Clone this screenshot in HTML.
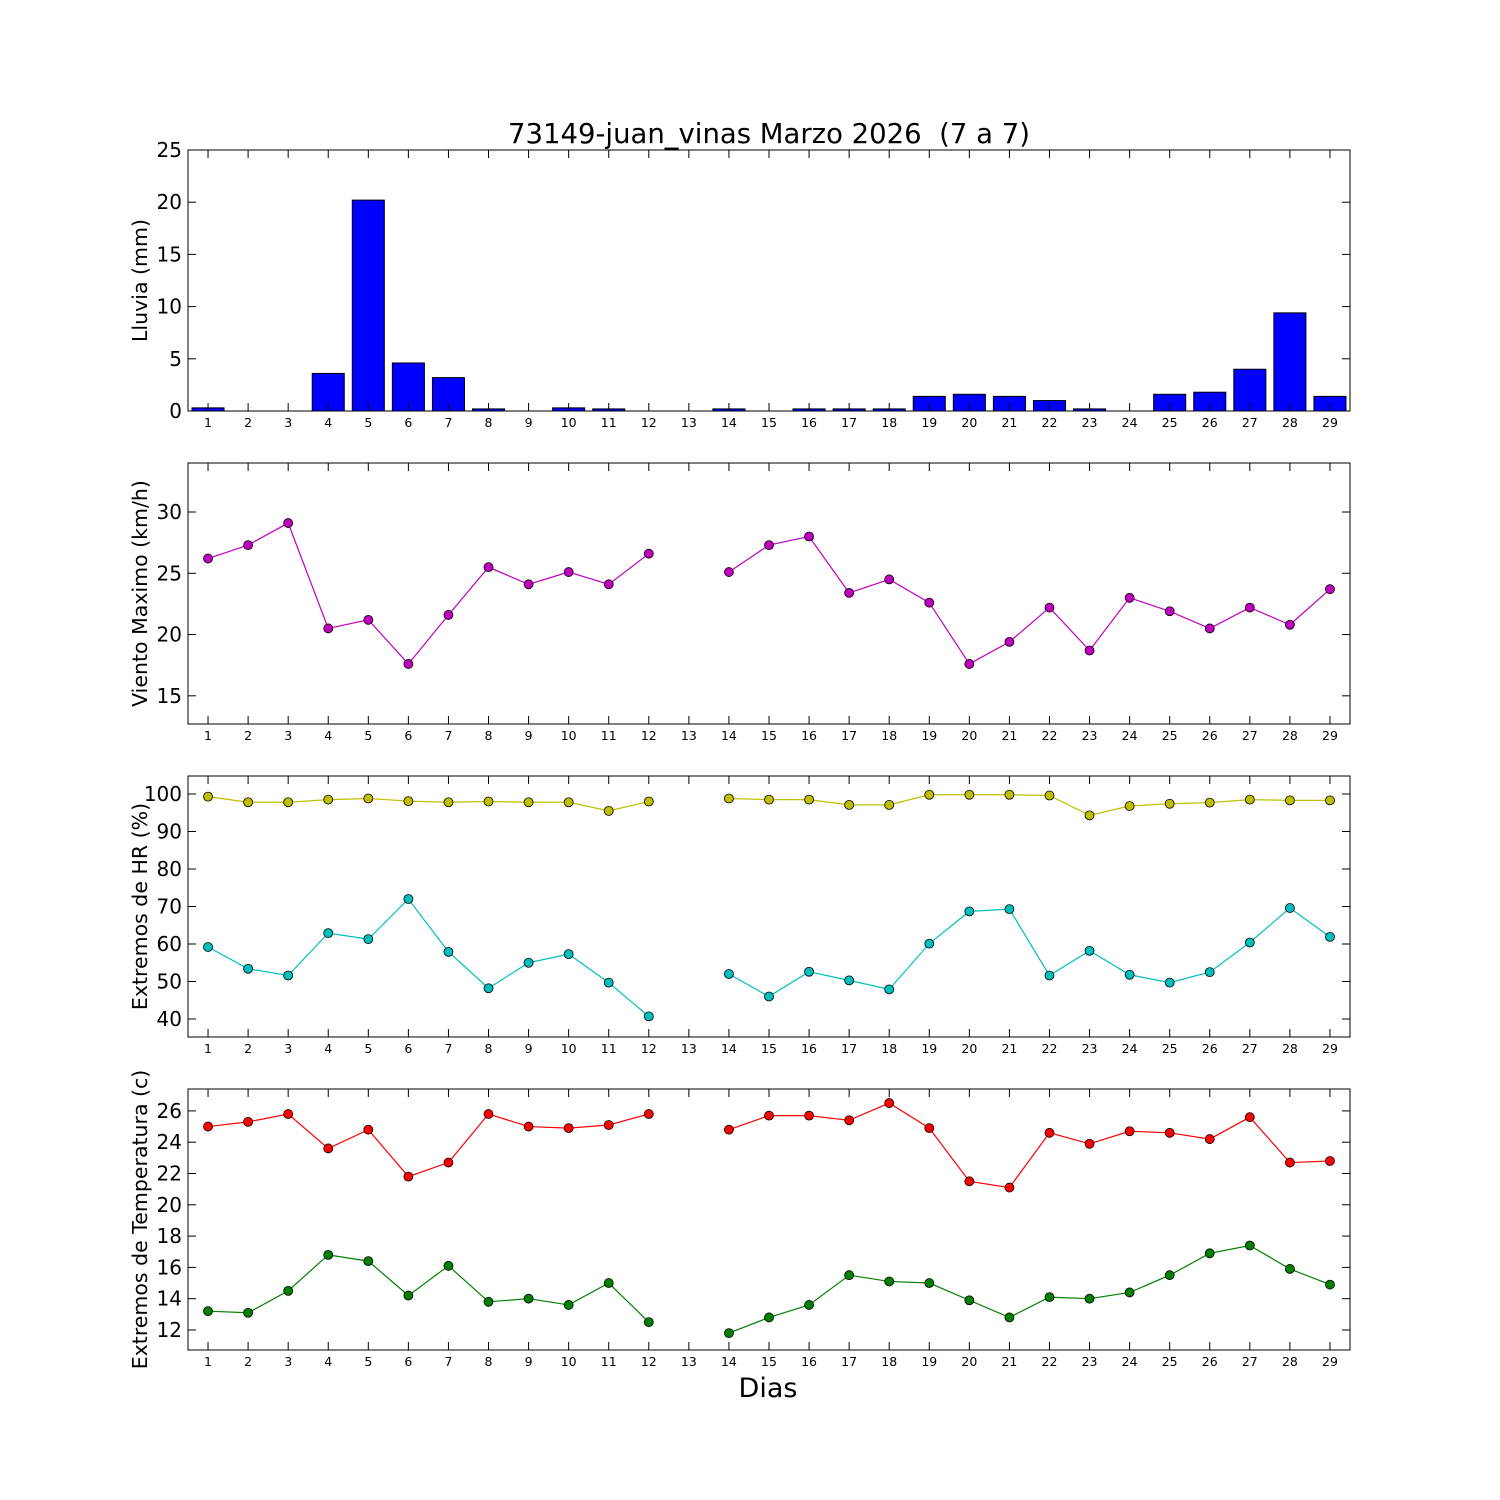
<!DOCTYPE html>
<html><head><meta charset="utf-8"><style>
body{margin:0;background:#fff}
svg{display:block;font-family:"DejaVu Sans","Liberation Sans",sans-serif}
</style></head><body>
<svg id="chart" width="1500" height="1500" viewBox="0 0 1500 1500">
<rect width="1500" height="1500" fill="#fff"/>
<text x="769" y="143" font-size="27.5" text-anchor="middle" xml:space="preserve">73149-juan_vinas Marzo 2026  (7 a 7)</text>
<text x="768" y="1397" font-size="27" text-anchor="middle">Dias</text>
</svg>
<script>
const days=[1,2,3,4,5,6,7,8,9,10,11,12,13,14,15,16,17,18,19,20,21,22,23,24,25,26,27,28,29];
const rain=[0.3,0,0,3.6,20.2,4.6,3.2,0.2,0,0.3,0.2,0,null,0.2,0,0.2,0.2,0.2,1.4,1.6,1.4,1.0,0.2,0,1.6,1.8,4.0,9.4,1.4];
const wind=[26.2,27.3,29.1,20.5,21.2,17.6,21.6,25.5,24.1,25.1,24.1,26.6,null,25.1,27.3,28.0,23.4,24.5,22.6,17.6,19.4,22.2,18.7,23.0,21.9,20.5,22.2,20.8,23.7];
const hrMax=[99.3,97.8,97.8,98.5,98.8,98.1,97.8,98.0,97.8,97.8,95.5,98.0,null,98.8,98.5,98.5,97.1,97.1,99.8,99.8,99.8,99.6,94.3,96.8,97.4,97.7,98.5,98.3,98.3];
const hrMin=[59.2,53.4,51.6,62.9,61.3,72.0,57.9,48.2,55.0,57.3,49.7,40.7,null,52.0,46.0,52.6,50.3,47.9,60.1,68.7,69.3,51.6,58.2,51.8,49.7,52.5,60.4,69.6,61.9];
const tMax=[25.0,25.3,25.8,23.6,24.8,21.8,22.7,25.8,25.0,24.9,25.1,25.8,null,24.8,25.7,25.7,25.4,26.5,24.9,21.5,21.1,24.6,23.9,24.7,24.6,24.2,25.6,22.7,22.8];
const tMin=[13.2,13.1,14.5,16.8,16.4,14.2,16.1,13.8,14.0,13.6,15.0,12.5,null,11.8,12.8,13.6,15.5,15.1,15.0,13.9,12.8,14.1,14.0,14.4,15.5,16.9,17.4,15.9,14.9];
const rainTicks=[0,5,10,15,20,25];
const windTicks=[15,20,25,30];
const hrTicks=[40,50,60,70,80,90,100];
const tempTicks=[12,14,16,18,20,22,24,26];

const svg=document.getElementById('chart');
const NS='http://www.w3.org/2000/svg';
const L=188,R=1350;
function el(tag,attrs,parent){const e=document.createElementNS(NS,tag);for(const k in attrs)e.setAttribute(k,attrs[k]);(parent||svg).appendChild(e);return e;}
const xs=d=>L+(d-0.5)*(R-L)/29;

function panel(name,top,bottom,ymin,ymax,ticks,label,draw){
  const g=el('g',{});
  
  
  const ys=v=>bottom-(v-ymin)/(ymax-ymin)*(bottom-top);
  draw(g,ys,bottom);
  el('rect',{x:L,y:top,width:R-L,height:bottom-top,fill:'none',stroke:'#000','stroke-width':1},g);
  ticks.forEach(t=>{
    const y=ys(t);
    el('line',{x1:L,x2:L+8,y1:y,y2:y,stroke:'#000'},g);
    el('line',{x1:R-8,x2:R,y1:y,y2:y,stroke:'#000'},g);
    const tx=el('text',{x:L-6,y:y+7,'font-size':20,'text-anchor':'end'},g);
    tx.textContent=t;
    
    
  });
  days.forEach(d=>{
    const x=xs(d);
    el('line',{x1:x,x2:x,y1:bottom,y2:bottom-8,stroke:'#000'},g);
    el('line',{x1:x,x2:x,y1:top,y2:top+8,stroke:'#000'},g);
    const tx=el('text',{x:x,y:bottom+16,'font-size':12.5,'text-anchor':'middle'},g);
    tx.textContent=d;
    
    
  });
  const cy=(top+bottom)/2;
  const yl=el('text',{x:147,y:cy,'font-size':20.5,'text-anchor':'middle',transform:`rotate(-90 147 ${cy})`},g);
  yl.textContent=label;
  
  
}
function series(g,ys,vals,color,name){
  let path='',pen=false;
  vals.forEach((v,i)=>{
    if(v==null){pen=false;return;}
    path+=(pen?'L':'M')+xs(days[i])+' '+ys(v)+' ';pen=true;
  });
  const p=el('path',{d:path,fill:'none',stroke:color,'stroke-width':1.2},g);
  
  
  vals.forEach((v,i)=>{
    if(v==null)return;
    const c=el('circle',{cx:xs(days[i]),cy:ys(v),r:4.5,fill:color,stroke:'#000','stroke-width':0.8},g);
    
    
  });
}
panel('rain',150,411,0,25,rainTicks,'Lluvia (mm)',(g,ys,b)=>{
  rain.forEach((v,i)=>{
    if(v==null)return;
    const w=(R-L)/29*0.8;
    const r=el('rect',{x:xs(days[i])-w/2,y:ys(v),width:w,height:b-ys(v),fill:'#0000ff',stroke:'#000','stroke-width':1},g);
    
    
  });
});
panel('wind',463,724,12.7,34,windTicks,'Viento Maximo (km/h)',(g,ys)=>series(g,ys,wind,'#bf00bf','wind'));
panel('humidity',776,1037,35.2,104.8,hrTicks,'Extremos de HR (%)',(g,ys)=>{series(g,ys,hrMax,'#bfbf00','hr-max');series(g,ys,hrMin,'#00bfbf','hr-min');});
panel('temperature',1089,1350,10.72,27.4,tempTicks,'Extremos de Temperatura (c)',(g,ys)=>{series(g,ys,tMax,'#ff0000','temp-max');series(g,ys,tMin,'#008000','temp-min');});
</script>
</body></html>
